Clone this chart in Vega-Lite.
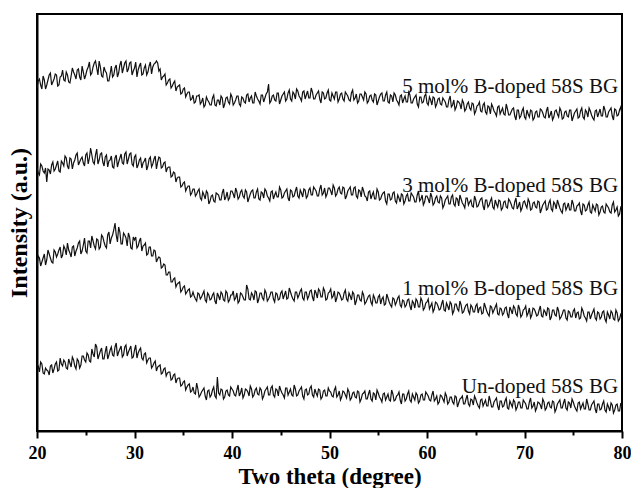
{
"$schema": "https://vega.github.io/schema/vega-lite/v6.json",
"width": 585, "height": 417,
"autosize": {"type": "none"},
"padding": {"left": 37, "top": 14, "right": 9, "bottom": 57},
"background": "white",
"config": {"view": {"stroke": "#000", "strokeWidth": 2}, "font": "Liberation Serif"},
"resolve": {"axis": {"x": "independent"}},
"layer": [
{
"data": {"values": [
{"t":20,"a":343,"b":263,"c":165,"d":67},{"t":20.25,"a":352,"b":256,"c":173,"d":59},{"t":20.5,"a":342,"b":265,"c":169,"d":67},{"t":20.75,"a":351,"b":258,"c":177,"d":57},
{"t":21,"a":346,"b":249,"c":171,"d":61},{"t":21.25,"a":356,"b":261,"c":177,"d":56},{"t":21.5,"a":346,"b":266,"c":169,"d":66},{"t":21.75,"a":352,"b":260,"c":181,"d":62},
{"t":22,"a":356,"b":266,"c":174,"d":69},{"t":22.25,"a":346,"b":260,"c":181,"d":61},{"t":22.5,"a":355,"b":270,"c":173,"d":67},{"t":22.75,"a":351,"b":265,"c":185,"d":71},
{"t":23,"a":359,"b":273,"c":176,"d":63},{"t":23.25,"a":349,"b":262,"c":181,"d":72},{"t":23.5,"a":355,"b":272,"c":174,"d":64},{"t":23.75,"a":359,"b":268,"c":185,"d":71},
{"t":24,"a":352,"b":276,"c":180,"d":62},{"t":24.25,"a":362,"b":266,"c":188,"d":70},{"t":24.5,"a":351,"b":272,"c":177,"d":66},{"t":24.75,"a":359,"b":268,"c":186,"d":75},
{"t":25,"a":356,"b":276,"c":180,"d":69},{"t":25.25,"a":364,"b":267,"c":190,"d":76},{"t":25.5,"a":356,"b":283,"c":183,"d":69},{"t":25.75,"a":364,"b":269,"c":190,"d":77},
{"t":26,"a":370,"b":276,"c":182,"d":87},{"t":26.25,"a":356,"b":267,"c":191,"d":72},{"t":26.5,"a":364,"b":277,"c":184,"d":80},{"t":26.75,"a":354,"b":269,"c":194,"d":72},
{"t":27,"a":360,"b":274,"c":185,"d":79},{"t":27.25,"a":350,"b":264,"c":196,"d":72},{"t":27.5,"a":357,"b":271,"c":187,"d":81},{"t":27.75,"a":354,"b":264,"c":196,"d":76},
{"t":28,"a":363,"b":273,"c":208,"d":84},{"t":28.25,"a":354,"b":264,"c":189,"d":75},{"t":28.5,"a":366,"b":273,"c":199,"d":82},{"t":28.75,"a":358,"b":268,"c":187,"d":74},
{"t":29,"a":368,"b":277,"c":196,"d":84},{"t":29.25,"a":359,"b":267,"c":185,"d":75},{"t":29.5,"a":368,"b":277,"c":194,"d":82},{"t":29.75,"a":356,"b":267,"c":182,"d":73},
{"t":30,"a":363,"b":274,"c":191,"d":81},{"t":30.25,"a":354,"b":263,"c":183,"d":73},{"t":30.5,"a":365,"b":271,"c":190,"d":81},{"t":30.75,"a":356,"b":263,"c":180,"d":73},
{"t":31,"a":363,"b":270,"c":186,"d":77},{"t":31.25,"a":356,"b":261,"c":176,"d":68},{"t":31.5,"a":365,"b":272,"c":184,"d":73},{"t":31.75,"a":357,"b":264,"c":175,"d":63},
{"t":32,"a":367,"b":272,"c":181,"d":68},{"t":32.25,"a":370,"b":262,"c":169,"d":60},{"t":32.5,"a":360,"b":274,"c":174,"d":65},{"t":32.75,"a":351,"b":263,"c":163,"d":57},
{"t":33,"a":355,"b":268,"c":167,"d":62},{"t":33.25,"a":346,"b":259,"c":156,"d":55},{"t":33.5,"a":351,"b":264,"c":159,"d":59},{"t":33.75,"a":343,"b":254,"c":149,"d":51},
{"t":34,"a":348,"b":259,"c":152,"d":56},{"t":34.25,"a":340,"b":249,"c":144,"d":48},{"t":34.5,"a":345,"b":254,"c":148,"d":53},{"t":34.75,"a":337,"b":244,"c":139,"d":45},
{"t":35,"a":342,"b":248,"c":144,"d":49},{"t":35.25,"a":334,"b":240,"c":137,"d":41},{"t":35.5,"a":339,"b":245,"c":141,"d":46},{"t":35.75,"a":331,"b":236,"c":134,"d":39},
{"t":36,"a":336,"b":242,"c":139,"d":44},{"t":36.25,"a":329,"b":235,"c":132,"d":37},{"t":36.5,"a":335,"b":240,"c":138,"d":42},{"t":36.75,"a":327,"b":233,"c":132,"d":36},
{"t":37,"a":333,"b":239,"c":137,"d":41},{"t":37.25,"a":326,"b":232,"c":131,"d":35},{"t":37.5,"a":331,"b":238,"c":138,"d":40},{"t":37.75,"a":326,"b":230,"c":131,"d":34},
{"t":38,"a":333,"b":236,"c":136,"d":41},{"t":38.25,"a":326,"b":229,"c":130,"d":35},{"t":38.5,"a":331,"b":237,"c":138,"d":54},{"t":38.75,"a":326,"b":231,"c":131,"d":36},
{"t":39,"a":333,"b":238,"c":137,"d":41},{"t":39.25,"a":327,"b":231,"c":130,"d":34},{"t":39.5,"a":334,"b":239,"c":138,"d":41},{"t":39.75,"a":327,"b":233,"c":131,"d":35},
{"t":40,"a":334,"b":240,"c":136,"d":42},{"t":40.25,"a":328,"b":233,"c":131,"d":36},{"t":40.5,"a":335,"b":239,"c":138,"d":41},{"t":40.75,"a":327,"b":234,"c":130,"d":35},
{"t":41,"a":334,"b":241,"c":137,"d":43},{"t":41.25,"a":329,"b":233,"c":131,"d":36},{"t":41.5,"a":336,"b":239,"c":146,"d":41},{"t":41.75,"a":329,"b":233,"c":132,"d":35},
{"t":42,"a":335,"b":240,"c":138,"d":42},{"t":42.25,"a":328,"b":233,"c":131,"d":36},{"t":42.5,"a":335,"b":239,"c":139,"d":43},{"t":42.75,"a":330,"b":232,"c":132,"d":36},
{"t":43,"a":336,"b":239,"c":138,"d":41},{"t":43.25,"a":329,"b":233,"c":131,"d":35},{"t":43.5,"a":337,"b":240,"c":138,"d":42},{"t":43.75,"a":347,"b":233,"c":132,"d":36},
{"t":44,"a":330,"b":239,"c":139,"d":43},{"t":44.25,"a":336,"b":232,"c":132,"d":36},{"t":44.5,"a":330,"b":239,"c":138,"d":42},{"t":44.75,"a":338,"b":234,"c":131,"d":35},
{"t":45,"a":331,"b":241,"c":138,"d":41},{"t":45.25,"a":337,"b":234,"c":132,"d":36},{"t":45.5,"a":330,"b":240,"c":140,"d":43},{"t":45.75,"a":338,"b":233,"c":133,"d":36},
{"t":46,"a":332,"b":241,"c":139,"d":42},{"t":46.25,"a":339,"b":234,"c":132,"d":35},{"t":46.5,"a":332,"b":240,"c":139,"d":42},{"t":46.75,"a":340,"b":235,"c":133,"d":36},
{"t":47,"a":333,"b":241,"c":140,"d":42},{"t":47.25,"a":339,"b":234,"c":133,"d":35},{"t":47.5,"a":332,"b":241,"c":139,"d":41},{"t":47.75,"a":340,"b":235,"c":132,"d":36},
{"t":48,"a":333,"b":243,"c":140,"d":43},{"t":48.25,"a":339,"b":236,"c":134,"d":36},{"t":48.5,"a":332,"b":242,"c":141,"d":42},{"t":48.75,"a":338,"b":235,"c":133,"d":35},
{"t":49,"a":332,"b":242,"c":140,"d":41},{"t":49.25,"a":339,"b":236,"c":134,"d":34},{"t":49.5,"a":332,"b":243,"c":140,"d":41},{"t":49.75,"a":338,"b":237,"c":132,"d":35},
{"t":50,"a":331,"b":243,"c":139,"d":40},{"t":50.25,"a":338,"b":236,"c":133,"d":35},{"t":50.5,"a":332,"b":243,"c":140,"d":41},{"t":50.75,"a":339,"b":237,"c":133,"d":34},
{"t":51,"a":332,"b":244,"c":138,"d":40},{"t":51.25,"a":338,"b":237,"c":131,"d":34},{"t":51.5,"a":330,"b":243,"c":138,"d":39},{"t":51.75,"a":337,"b":235,"c":132,"d":33},
{"t":52,"a":331,"b":242,"c":138,"d":39},{"t":52.25,"a":338,"b":236,"c":131,"d":33},{"t":52.5,"a":331,"b":243,"c":137,"d":39},{"t":52.75,"a":337,"b":235,"c":130,"d":33},
{"t":53,"a":330,"b":241,"c":136,"d":39},{"t":53.25,"a":337,"b":234,"c":130,"d":32},{"t":53.5,"a":331,"b":240,"c":136,"d":38},{"t":53.75,"a":337,"b":234,"c":129,"d":32},
{"t":54,"a":330,"b":239,"c":135,"d":37},{"t":54.25,"a":336,"b":232,"c":129,"d":32},{"t":54.5,"a":329,"b":239,"c":136,"d":38},{"t":54.75,"a":336,"b":232,"c":128,"d":31},
{"t":55,"a":330,"b":239,"c":134,"d":38},{"t":55.25,"a":337,"b":232,"c":127,"d":32},{"t":55.5,"a":330,"b":238,"c":134,"d":37},{"t":55.75,"a":336,"b":230,"c":127,"d":31},
{"t":56,"a":329,"b":237,"c":133,"d":37},{"t":56.25,"a":336,"b":231,"c":126,"d":30},{"t":56.5,"a":329,"b":238,"c":133,"d":37},{"t":56.75,"a":336,"b":230,"c":126,"d":31},
{"t":57,"a":329,"b":236,"c":133,"d":36},{"t":57.25,"a":335,"b":229,"c":126,"d":31},{"t":57.5,"a":328,"b":236,"c":131,"d":37},{"t":57.75,"a":335,"b":230,"c":124,"d":30},
{"t":58,"a":329,"b":237,"c":131,"d":37},{"t":58.25,"a":336,"b":230,"c":125,"d":31},{"t":58.5,"a":328,"b":236,"c":130,"d":37},{"t":58.75,"a":334,"b":229,"c":123,"d":31},
{"t":59,"a":327,"b":236,"c":130,"d":36},{"t":59.25,"a":334,"b":230,"c":124,"d":30},{"t":59.5,"a":328,"b":236,"c":130,"d":37},{"t":59.75,"a":335,"b":229,"c":123,"d":31},
{"t":60,"a":328,"b":235,"c":129,"d":37},{"t":60.25,"a":334,"b":228,"c":122,"d":31},{"t":60.5,"a":326,"b":234,"c":128,"d":36},{"t":60.75,"a":333,"b":228,"c":122,"d":30},
{"t":61,"a":327,"b":235,"c":128,"d":35},{"t":61.25,"a":333,"b":228,"c":121,"d":29},{"t":61.5,"a":326,"b":233,"c":127,"d":35},{"t":61.75,"a":331,"b":226,"c":121,"d":29},
{"t":62,"a":324,"b":233,"c":128,"d":35},{"t":62.25,"a":331,"b":227,"c":121,"d":29},{"t":62.5,"a":324,"b":234,"c":127,"d":34},{"t":62.75,"a":331,"b":227,"c":120,"d":27},
{"t":63,"a":324,"b":233,"c":127,"d":34},{"t":63.25,"a":329,"b":225,"c":120,"d":28},{"t":63.5,"a":322,"b":232,"c":126,"d":33},{"t":63.75,"a":328,"b":226,"c":119,"d":27},
{"t":64,"a":322,"b":233,"c":126,"d":32},{"t":64.25,"a":329,"b":226,"c":120,"d":27},{"t":64.5,"a":321,"b":231,"c":126,"d":32},{"t":64.75,"a":327,"b":224,"c":119,"d":26},
{"t":65,"a":320,"b":231,"c":125,"d":32},{"t":65.25,"a":326,"b":225,"c":118,"d":25},{"t":65.5,"a":320,"b":232,"c":124,"d":31},{"t":65.75,"a":326,"b":225,"c":118,"d":25},
{"t":66,"a":319,"b":231,"c":124,"d":31},{"t":66.25,"a":325,"b":224,"c":117,"d":25},{"t":66.5,"a":317,"b":230,"c":125,"d":30},{"t":66.75,"a":324,"b":224,"c":118,"d":24},
{"t":67,"a":318,"b":231,"c":124,"d":31},{"t":67.25,"a":324,"b":224,"c":117,"d":25},{"t":67.5,"a":317,"b":230,"c":123,"d":30},{"t":67.75,"a":323,"b":223,"c":116,"d":24},
{"t":68,"a":316,"b":230,"c":123,"d":30},{"t":68.25,"a":322,"b":223,"c":117,"d":23},{"t":68.5,"a":316,"b":230,"c":124,"d":30},{"t":68.75,"a":322,"b":223,"c":117,"d":24},
{"t":69,"a":315,"b":229,"c":123,"d":29},{"t":69.25,"a":321,"b":222,"c":115,"d":24},{"t":69.5,"a":313,"b":229,"c":122,"d":29},{"t":69.75,"a":320,"b":223,"c":116,"d":23},
{"t":70,"a":314,"b":230,"c":122,"d":29},{"t":70.25,"a":321,"b":223,"c":115,"d":22},{"t":70.5,"a":314,"b":229,"c":123,"d":29},{"t":70.75,"a":320,"b":222,"c":116,"d":23},
{"t":71,"a":313,"b":229,"c":122,"d":29},{"t":71.25,"a":320,"b":223,"c":115,"d":23},{"t":71.5,"a":314,"b":229,"c":121,"d":28},{"t":71.75,"a":321,"b":222,"c":115,"d":22},
{"t":72,"a":314,"b":228,"c":121,"d":29},{"t":72.25,"a":320,"b":221,"c":115,"d":23},{"t":72.5,"a":313,"b":228,"c":122,"d":29},{"t":72.75,"a":320,"b":222,"c":114,"d":23},
{"t":73,"a":314,"b":229,"c":121,"d":29},{"t":73.25,"a":321,"b":222,"c":115,"d":22},{"t":73.5,"a":314,"b":227,"c":120,"d":29},{"t":73.75,"a":320,"b":220,"c":114,"d":23},
{"t":74,"a":313,"b":227,"c":121,"d":28},{"t":74.25,"a":320,"b":221,"c":113,"d":23},{"t":74.5,"a":314,"b":228,"c":120,"d":29},{"t":74.75,"a":321,"b":221,"c":114,"d":23},
{"t":75,"a":314,"b":227,"c":120,"d":29},{"t":75.25,"a":320,"b":220,"c":113,"d":22},{"t":75.5,"a":313,"b":226,"c":119,"d":28},{"t":75.75,"a":320,"b":220,"c":113,"d":22},
{"t":76,"a":314,"b":227,"c":120,"d":28},{"t":76.25,"a":321,"b":220,"c":113,"d":22},{"t":76.5,"a":314,"b":226,"c":119,"d":27},{"t":76.75,"a":320,"b":219,"c":112,"d":21},
{"t":77,"a":313,"b":226,"c":119,"d":28},{"t":77.25,"a":320,"b":220,"c":113,"d":22},{"t":77.5,"a":314,"b":226,"c":119,"d":27},{"t":77.75,"a":322,"b":219,"c":112,"d":21},
{"t":78,"a":315,"b":225,"c":119,"d":27},{"t":78.25,"a":321,"b":218,"c":112,"d":21},{"t":78.5,"a":314,"b":225,"c":119,"d":27},{"t":78.75,"a":321,"b":219,"c":112,"d":20},
{"t":79,"a":315,"b":226,"c":118,"d":26},{"t":79.25,"a":322,"b":219,"c":111,"d":21},{"t":79.5,"a":315,"b":224,"c":118,"d":27},{"t":79.75,"a":321,"b":217,"c":112,"d":20},
{"t":80,"a":316,"b":223,"c":116,"d":24},
{"t":20.125,"a":350,"b":258,"c":175,"d":65},{"t":20.375,"a":346,"b":267,"c":165,"d":69},{"t":20.625,"a":355,"b":260,"c":173,"d":58},{"t":20.875,"a":342,"b":263,"c":166,"d":63},
{"t":21.125,"a":351,"b":262,"c":181,"d":60},{"t":21.375,"a":358,"b":257,"c":173,"d":65},{"t":21.625,"a":349,"b":269,"c":168,"d":58},{"t":21.875,"a":357,"b":262,"c":179,"d":67},
{"t":22.125,"a":345,"b":270,"c":177,"d":60},{"t":22.375,"a":354,"b":259,"c":184,"d":73},{"t":22.625,"a":361,"b":268,"c":176,"d":65},{"t":22.875,"a":350,"b":275,"c":182,"d":69},
{"t":23.125,"a":356,"b":265,"c":188,"d":62},{"t":23.375,"a":348,"b":273,"c":178,"d":68},{"t":23.625,"a":363,"b":262,"c":184,"d":74},{"t":23.875,"a":356,"b":271,"c":175,"d":65},
{"t":24.125,"a":361,"b":278,"c":183,"d":72},{"t":24.375,"a":354,"b":269,"c":190,"d":63},{"t":24.625,"a":365,"b":274,"c":180,"d":75},{"t":24.875,"a":352,"b":265,"c":193,"d":71},
{"t":25.125,"a":361,"b":278,"c":178,"d":78},{"t":25.375,"a":369,"b":273,"c":190,"d":70},{"t":25.625,"a":358,"b":276,"c":195,"d":82},{"t":25.875,"a":368,"b":267,"c":185,"d":74},
{"t":26.125,"a":363,"b":282,"c":192,"d":84},{"t":26.375,"a":370,"b":271,"c":182,"d":76},{"t":26.625,"a":355,"b":278,"c":196,"d":83},{"t":26.875,"a":364,"b":265,"c":189,"d":72},
{"t":27.125,"a":358,"b":276,"c":183,"d":85},{"t":27.375,"a":350,"b":270,"c":199,"d":76},{"t":27.625,"a":365,"b":275,"c":193,"d":84},{"t":27.875,"a":356,"b":263,"c":201,"d":75},
{"t":28.125,"a":366,"b":276,"c":196,"d":88},{"t":28.375,"a":358,"b":269,"c":204,"d":79},{"t":28.625,"a":370,"b":277,"c":187,"d":85},{"t":28.875,"a":363,"b":267,"c":198,"d":76},
{"t":29.125,"a":370,"b":279,"c":193,"d":86},{"t":29.375,"a":362,"b":272,"c":198,"d":79},{"t":29.625,"a":369,"b":278,"c":183,"d":85},{"t":29.875,"a":360,"b":265,"c":194,"d":74},
{"t":30.125,"a":369,"b":276,"c":194,"d":86},{"t":30.375,"a":361,"b":266,"c":185,"d":78},{"t":30.625,"a":368,"b":273,"c":193,"d":83},{"t":30.875,"a":357,"b":268,"c":185,"d":71},
{"t":31.125,"a":366,"b":273,"c":188,"d":78},{"t":31.375,"a":359,"b":265,"c":177,"d":71},{"t":31.625,"a":369,"b":274,"c":184,"d":73},{"t":31.875,"a":364,"b":267,"c":175,"d":65},
{"t":32.125,"a":368,"b":275,"c":180,"d":70},{"t":32.375,"a":368,"b":269,"c":172,"d":64},{"t":32.625,"a":362,"b":273,"c":173,"d":66},{"t":32.875,"a":354,"b":264,"c":164,"d":58},
{"t":33.125,"a":357,"b":269,"c":166,"d":63},{"t":33.375,"a":348,"b":263,"c":156,"d":58},{"t":33.625,"a":352,"b":264,"c":159,"d":59},{"t":33.875,"a":345,"b":255,"c":149,"d":52},
{"t":34.125,"a":350,"b":258,"c":153,"d":57},{"t":34.375,"a":344,"b":253,"c":147,"d":52},{"t":34.625,"a":346,"b":254,"c":149,"d":53},{"t":34.875,"a":338,"b":245,"c":141,"d":46},
{"t":35.125,"a":343,"b":249,"c":145,"d":50},{"t":35.375,"a":337,"b":243,"c":139,"d":44},{"t":35.625,"a":339,"b":245,"c":142,"d":47},{"t":35.875,"a":332,"b":238,"c":135,"d":40},
{"t":36.125,"a":328,"b":242,"c":135,"d":38},{"t":36.375,"a":335,"b":237,"c":130,"d":48},{"t":36.625,"a":336,"b":242,"c":137,"d":34},{"t":36.875,"a":329,"b":231,"c":134,"d":39},
{"t":37.125,"a":324,"b":236,"c":140,"d":43},{"t":37.375,"a":334,"b":240,"c":129,"d":31},{"t":37.625,"a":329,"b":227,"c":136,"d":41},{"t":37.875,"a":326,"b":235,"c":132,"d":36},
{"t":38.125,"a":336,"b":230,"c":138,"d":44},{"t":38.375,"a":325,"b":238,"c":127,"d":33},{"t":38.625,"a":331,"b":236,"c":135,"d":38},{"t":38.875,"a":335,"b":231,"c":139,"d":42},
{"t":39.125,"a":323,"b":242,"c":131,"d":32},{"t":39.375,"a":333,"b":234,"c":140,"d":40},{"t":39.625,"a":329,"b":231,"c":129,"d":36},{"t":39.875,"a":337,"b":240,"c":136,"d":44},
{"t":40.125,"a":326,"b":237,"c":140,"d":40},{"t":40.375,"a":331,"b":243,"c":133,"d":35},{"t":40.625,"a":335,"b":232,"c":128,"d":46},{"t":40.875,"a":325,"b":239,"c":138,"d":38},
{"t":41.125,"a":333,"b":235,"c":134,"d":33},{"t":41.375,"a":328,"b":241,"c":131,"d":42},{"t":41.625,"a":337,"b":229,"c":142,"d":39},{"t":41.875,"a":333,"b":237,"c":131,"d":45},
{"t":42.125,"a":328,"b":241,"c":136,"d":34},{"t":42.375,"a":339,"b":233,"c":140,"d":41},{"t":42.625,"a":332,"b":242,"c":128,"d":37},{"t":42.875,"a":327,"b":231,"c":138,"d":43},
{"t":43.125,"a":336,"b":238,"c":133,"d":32},{"t":43.375,"a":333,"b":242,"c":141,"d":40},{"t":43.625,"a":339,"b":235,"c":130,"d":44},{"t":43.875,"a":328,"b":230,"c":135,"d":36},
{"t":44.125,"a":335,"b":240,"c":139,"d":45},{"t":44.375,"a":331,"b":236,"c":129,"d":34},{"t":44.625,"a":338,"b":234,"c":137,"d":41},{"t":44.875,"a":327,"b":244,"c":132,"d":45},
{"t":45.125,"a":335,"b":233,"c":140,"d":38},{"t":45.375,"a":339,"b":238,"c":136,"d":33},{"t":45.625,"a":332,"b":242,"c":132,"d":43},{"t":45.875,"a":341,"b":230,"c":143,"d":39},
{"t":46.125,"a":330,"b":240,"c":135,"d":36},{"t":46.375,"a":337,"b":235,"c":130,"d":46},{"t":46.625,"a":342,"b":244,"c":139,"d":35},{"t":46.875,"a":335,"b":233,"c":136,"d":40},
{"t":47.125,"a":330,"b":238,"c":142,"d":44},{"t":47.375,"a":340,"b":242,"c":131,"d":32},{"t":47.625,"a":336,"b":233,"c":139,"d":42},{"t":47.875,"a":333,"b":241,"c":135,"d":37},
{"t":48.125,"a":343,"b":236,"c":141,"d":45},{"t":48.375,"a":332,"b":244,"c":130,"d":34},{"t":48.625,"a":336,"b":240,"c":138,"d":38},{"t":48.875,"a":340,"b":235,"c":142,"d":42},
{"t":49.125,"a":328,"b":246,"c":134,"d":32},{"t":49.375,"a":338,"b":238,"c":143,"d":40},{"t":49.625,"a":333,"b":234,"c":131,"d":35},{"t":49.875,"a":341,"b":243,"c":138,"d":43},
{"t":50.125,"a":330,"b":240,"c":142,"d":39},{"t":50.375,"a":335,"b":246,"c":135,"d":34},{"t":50.625,"a":339,"b":235,"c":129,"d":44},{"t":50.875,"a":329,"b":242,"c":139,"d":36},
{"t":51.125,"a":337,"b":238,"c":135,"d":31},{"t":51.375,"a":332,"b":244,"c":132,"d":40},{"t":51.625,"a":339,"b":232,"c":141,"d":36},{"t":51.875,"a":335,"b":240,"c":130,"d":42},
{"t":52.125,"a":330,"b":244,"c":135,"d":31},{"t":52.375,"a":341,"b":236,"c":139,"d":38},{"t":52.625,"a":333,"b":244,"c":126,"d":34},{"t":52.875,"a":328,"b":233,"c":136,"d":40},
{"t":53.125,"a":337,"b":240,"c":131,"d":29},{"t":53.375,"a":334,"b":244,"c":139,"d":37},{"t":53.625,"a":339,"b":235,"c":127,"d":40},{"t":53.875,"a":328,"b":230,"c":132,"d":32},
{"t":54.125,"a":335,"b":240,"c":136,"d":41},{"t":54.375,"a":331,"b":236,"c":126,"d":30},{"t":54.625,"a":337,"b":232,"c":133,"d":37},{"t":54.875,"a":326,"b":242,"c":128,"d":41},
{"t":55.125,"a":334,"b":231,"c":136,"d":34},{"t":55.375,"a":338,"b":236,"c":132,"d":29},{"t":55.625,"a":330,"b":239,"c":126,"d":38},{"t":55.875,"a":339,"b":227,"c":137,"d":34},
{"t":56.125,"a":328,"b":237,"c":129,"d":31},{"t":56.375,"a":335,"b":232,"c":124,"d":41},{"t":56.625,"a":338,"b":239,"c":132,"d":30},{"t":56.875,"a":331,"b":228,"c":129,"d":35},
{"t":57.125,"a":326,"b":233,"c":135,"d":39},{"t":57.375,"a":336,"b":237,"c":124,"d":27},{"t":57.625,"a":332,"b":227,"c":130,"d":37},{"t":57.875,"a":329,"b":235,"c":126,"d":32},
{"t":58.125,"a":339,"b":230,"c":132,"d":40},{"t":58.375,"a":328,"b":238,"c":121,"d":29},{"t":58.625,"a":332,"b":234,"c":128,"d":34},{"t":58.875,"a":336,"b":229,"c":132,"d":38},
{"t":59.125,"a":324,"b":240,"c":124,"d":28},{"t":59.375,"a":334,"b":232,"c":133,"d":36},{"t":59.625,"a":329,"b":226,"c":121,"d":31},{"t":59.875,"a":337,"b":235,"c":128,"d":39},
{"t":60.125,"a":326,"b":232,"c":132,"d":35},{"t":60.375,"a":331,"b":238,"c":125,"d":30},{"t":60.625,"a":334,"b":226,"c":119,"d":40},{"t":60.875,"a":324,"b":233,"c":129,"d":32},
{"t":61.125,"a":332,"b":229,"c":125,"d":27},{"t":61.375,"a":327,"b":235,"c":122,"d":36},{"t":61.625,"a":333,"b":223,"c":131,"d":32},{"t":61.875,"a":329,"b":231,"c":120,"d":38},
{"t":62.125,"a":324,"b":235,"c":125,"d":27},{"t":62.375,"a":335,"b":227,"c":129,"d":34},{"t":62.625,"a":326,"b":236,"c":117,"d":29},{"t":62.875,"a":321,"b":225,"c":127,"d":35},
{"t":63.125,"a":330,"b":232,"c":122,"d":24},{"t":63.375,"a":327,"b":236,"c":130,"d":32},{"t":63.625,"a":331,"b":228,"c":118,"d":35},{"t":63.875,"a":320,"b":223,"c":123,"d":27},
{"t":64.125,"a":327,"b":233,"c":127,"d":36},{"t":64.375,"a":323,"b":229,"c":117,"d":25},{"t":64.625,"a":328,"b":225,"c":124,"d":31},{"t":64.875,"a":317,"b":235,"c":119,"d":35},
{"t":65.125,"a":325,"b":224,"c":127,"d":28},{"t":65.375,"a":329,"b":229,"c":123,"d":23},{"t":65.625,"a":319,"b":233,"c":117,"d":32},{"t":65.875,"a":328,"b":221,"c":128,"d":28},
{"t":66.125,"a":317,"b":231,"c":120,"d":25},{"t":66.375,"a":324,"b":226,"c":115,"d":35},{"t":66.625,"a":327,"b":233,"c":124,"d":24},{"t":66.875,"a":320,"b":222,"c":121,"d":29},
{"t":67.125,"a":315,"b":227,"c":127,"d":33},{"t":67.375,"a":325,"b":231,"c":116,"d":21},{"t":67.625,"a":320,"b":221,"c":122,"d":30},{"t":67.875,"a":317,"b":229,"c":118,"d":25},
{"t":68.125,"a":327,"b":224,"c":124,"d":33},{"t":68.375,"a":316,"b":232,"c":113,"d":22},{"t":68.625,"a":319,"b":227,"c":121,"d":27},{"t":68.875,"a":323,"b":222,"c":125,"d":31},
{"t":69.125,"a":311,"b":233,"c":117,"d":21},{"t":69.375,"a":321,"b":225,"c":126,"d":29},{"t":69.625,"a":315,"b":220,"c":114,"d":23},{"t":69.875,"a":323,"b":229,"c":121,"d":31},
{"t":70.125,"a":312,"b":226,"c":125,"d":27},{"t":70.375,"a":317,"b":232,"c":118,"d":22},{"t":70.625,"a":321,"b":221,"c":113,"d":33},{"t":70.875,"a":311,"b":228,"c":123,"d":25},
{"t":71.125,"a":319,"b":224,"c":119,"d":20},{"t":71.375,"a":314,"b":230,"c":116,"d":29},{"t":71.625,"a":322,"b":218,"c":125,"d":26},{"t":71.875,"a":318,"b":226,"c":114,"d":32},
{"t":72.125,"a":313,"b":230,"c":119,"d":21},{"t":72.375,"a":324,"b":222,"c":123,"d":28},{"t":72.625,"a":316,"b":231,"c":111,"d":24},{"t":72.875,"a":311,"b":220,"c":121,"d":30},
{"t":73.125,"a":320,"b":227,"c":116,"d":19},{"t":73.375,"a":317,"b":231,"c":124,"d":27},{"t":73.625,"a":323,"b":223,"c":112,"d":31},{"t":73.875,"a":312,"b":218,"c":117,"d":23},
{"t":74.125,"a":319,"b":228,"c":121,"d":32},{"t":74.375,"a":315,"b":224,"c":111,"d":21},{"t":74.625,"a":321,"b":221,"c":119,"d":28},{"t":74.875,"a":310,"b":231,"c":114,"d":32},
{"t":75.125,"a":318,"b":220,"c":122,"d":25},{"t":75.375,"a":322,"b":225,"c":118,"d":20},{"t":75.625,"a":314,"b":228,"c":112,"d":29},{"t":75.875,"a":323,"b":216,"c":123,"d":25},
{"t":76.125,"a":312,"b":226,"c":115,"d":22},{"t":76.375,"a":319,"b":221,"c":110,"d":32},{"t":76.625,"a":323,"b":229,"c":119,"d":21},{"t":76.875,"a":316,"b":218,"c":116,"d":26},
{"t":77.125,"a":311,"b":223,"c":122,"d":30},{"t":77.375,"a":321,"b":227,"c":111,"d":18},{"t":77.625,"a":318,"b":216,"c":118,"d":27},{"t":77.875,"a":315,"b":224,"c":114,"d":22},
{"t":78.125,"a":325,"b":219,"c":120,"d":30},{"t":78.375,"a":314,"b":227,"c":109,"d":19},{"t":78.625,"a":319,"b":223,"c":116,"d":24},{"t":78.875,"a":323,"b":218,"c":120,"d":28},
{"t":79.125,"a":311,"b":229,"c":112,"d":18},{"t":79.375,"a":321,"b":221,"c":121,"d":26},{"t":79.625,"a":316,"b":215,"c":110,"d":20},{"t":79.875,"a":324,"b":224,"c":117,"d":28}
]},
"transform": [{"fold": ["a","b","c","d"], "as": ["s","v"]}],
"mark": {"type": "line", "color": "#111", "strokeWidth": 1.2, "clip": true},
"encoding": {
"x": {"field": "t", "type": "quantitative", "scale": {"domain": [20, 80], "nice": false, "zero": false},
"axis": {"orient": "bottom", "title": "Two theta (degree)", "values": [20,30,40,50,60,70,80],
"labelFlush": false, "labelOverlap": false,
"labelFont": "Liberation Serif", "labelFontSize": 18, "labelFontWeight": "bold", "labelColor": "#000", "labelPadding": 6,
"tickColor": "#000", "tickWidth": 2, "tickSize": 7,
"domainColor": "#000", "domainWidth": 2, "grid": false,
"titleFont": "Liberation Serif", "titleFontSize": 23, "titleFontWeight": "bold", "titleColor": "#000",
"titleBaseline": "alphabetic", "titleY": 52}},
"y": {"field": "v", "type": "quantitative", "scale": {"domain": [0, 417], "nice": false, "zero": false},
"axis": {"title": "Intensity (a.u.)", "labels": false, "ticks": false, "grid": false, "domainColor": "#000", "domainWidth": 2,
"titleFont": "Liberation Serif", "titleFontSize": 24, "titleFontWeight": "bold", "titleColor": "#000",
"titleBaseline": "alphabetic", "titleX": -11}},
"detail": {"field": "s"}
}
},
{
"data": {"values": [
{"label": "5 mol% B-doped 58S BG", "t": 79.6, "v": 338},
{"label": "3 mol% B-doped 58S BG", "t": 79.6, "v": 239},
{"label": "1 mol% B-doped 58S BG", "t": 79.6, "v": 136},
{"label": "Un-doped 58S BG", "t": 79.6, "v": 38}
]},
"mark": {"type": "text", "align": "right", "baseline": "alphabetic", "font": "Liberation Serif", "fontSize": 21, "color": "#111"},
"encoding": {
"x": {"field": "t", "type": "quantitative",
"axis": {"orient": "bottom", "values": [25,35,45,55,65,75], "labels": false, "domain": false, "ticks": true,
"tickSize": 4, "tickWidth": 2, "tickColor": "#000", "grid": false, "title": null}},
"y": {"field": "v", "type": "quantitative"},
"text": {"field": "label"}
}
}
]
}
